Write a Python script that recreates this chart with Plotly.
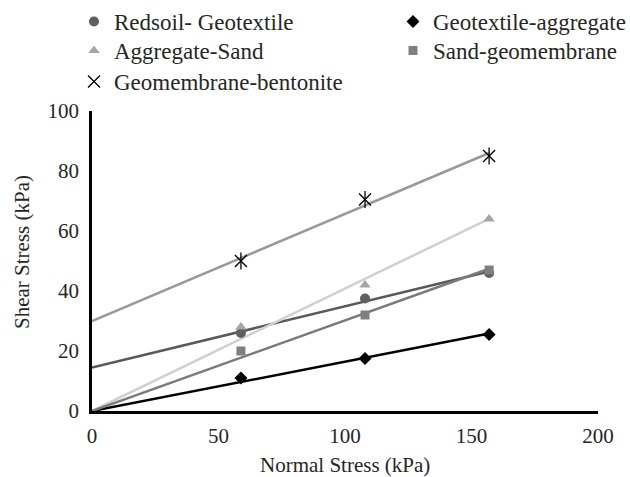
import numpy as np
import plotly.graph_objects as go

# ---- data ----
normal_stress = [58.86, 107.91, 156.96]
redsoil_geotextile = [26.0, 37.5, 46.0]
geotextile_aggregate = [11.0, 17.5, 25.5]
aggregate_sand = [28.0, 42.0, 64.0]
sand_geomembrane = [20.0, 32.0, 47.0]
geomembrane_bentonite = [50.0, 70.5, 85.0]

x_ticks = [0, 50, 100, 150, 200]
y_ticks = [0, 20, 40, 60, 80, 100]
x_title = "Normal Stress (kPa)"
y_title = "Shear Stress (kPa)"

FONT = "Liberation Serif"
TXT = "#262626"
AX_SIZE = 21
LEG_SIZE = 23

series = [
    # name, values, symbol, marker color, size, trend color, through origin, legend id
    ("Redsoil- Geotextile", redsoil_geotextile, "circle", "#5f5f5f", 10, "#595959", False, "legend"),
    ("Geotextile-aggregate", geotextile_aggregate, "diamond", "#000000", 10, "#000000", True, "legend2"),
    ("Aggregate-Sand", aggregate_sand, "triangle-up", "#a5a5a5", 10, "#d0d0d0", True, "legend3"),
    ("Sand-geomembrane", sand_geomembrane, "square", "#7f7f7f", 9, "#7a7a7a", True, "legend4"),
    ("Geomembrane-bentonite", geomembrane_bentonite, "x-thin-open", "#000000", 12, "#999999", False, "legend5"),
]

fig = go.Figure()
xs = np.array(normal_stress)
x_line = np.array([0.0, normal_stress[-1]])

# trendlines (least squares fit of the data)
for name, vals, sym, mcol, msz, tcol, origin, leg in series:
    ys = np.array(vals)
    if origin:
        slope = float((xs * ys).sum() / (xs * xs).sum())
        inter = 0.0
    else:
        slope, inter = np.polyfit(xs, ys, 1)
    fig.add_trace(go.Scatter(
        x=x_line, y=slope * x_line + inter, mode="lines",
        line=dict(color=tcol, width=2.5), showlegend=False, hoverinfo="skip",
        cliponaxis=False,
    ))

# markers
for name, vals, sym, mcol, msz, tcol, origin, leg in series:
    fig.add_trace(go.Scatter(
        x=normal_stress, y=vals, mode="markers", name=name, legend=leg,
        marker=dict(symbol=sym, color=mcol, size=msz,
                    line=dict(color=mcol, width=1.3 if "open" in sym else 0)),
        cliponaxis=False,
    ))
    if sym == "x-thin-open":
        fig.add_trace(go.Scatter(
            x=normal_stress, y=vals, mode="markers", showlegend=False,
            marker=dict(symbol="line-ns-open", color=mcol, size=msz,
                        line=dict(color=mcol, width=1.3)),
            cliponaxis=False,
        ))


def leg(xpx, toppx):
    return dict(
        orientation="v", xref="container", yref="container",
        x=xpx / 630, y=1 - toppx / 477, xanchor="left", yanchor="top",
        font=dict(family=FONT, size=LEG_SIZE, color=TXT),
        bgcolor="rgba(0,0,0,0)", itemwidth=30,
    )


fig.update_layout(
    width=630, height=477,
    margin=dict(l=92, r=32, t=111, b=66, autoexpand=False),
    paper_bgcolor="white", plot_bgcolor="white",
    font=dict(family=FONT, size=AX_SIZE, color=TXT),
    showlegend=True,
    legend=leg(74, -2),
    legend2=leg(393, -2),
    legend3=leg(74, 29),
    legend4=leg(393, 29),
    legend5=leg(74, 60),
    xaxis=dict(
        range=[0, 200], tickvals=x_ticks, showgrid=False, zeroline=False,
        showline=True, linecolor="#000000", linewidth=2.5, ticks="",
        automargin=False, ticklabelstandoff=4,
        tickfont=dict(family=FONT, size=AX_SIZE, color=TXT),
    ),
    yaxis=dict(
        range=[0, 100], tickvals=y_ticks, showgrid=False, zeroline=False,
        showline=True, linecolor="#000000", linewidth=2.5, ticks="",
        automargin=False, ticklabelstandoff=6,
        tickfont=dict(family=FONT, size=AX_SIZE, color=TXT),
    ),
    annotations=[
        dict(text=x_title, xref="paper", yref="paper", x=0.5, y=-0.18,
             xanchor="center", yanchor="middle", showarrow=False,
             font=dict(family=FONT, size=AX_SIZE, color=TXT)),
        dict(text=y_title, xref="paper", yref="paper", x=-70 / 506, y=0.53,
             xanchor="center", yanchor="middle", textangle=-90, showarrow=False,
             font=dict(family=FONT, size=AX_SIZE, color=TXT)),
    ],
)

fig.write_html("out.html")
